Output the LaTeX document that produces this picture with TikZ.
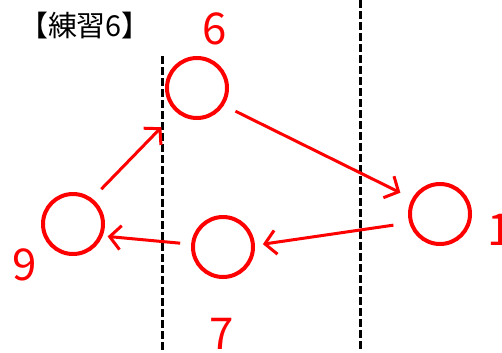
\documentclass[tikz,border=0pt]{standalone}
\usepackage{fontspec}
\setmainfont{Noto Sans CJK JP}
\usetikzlibrary{arrows.meta}
\definecolor{markred}{RGB}{255,0,0}

\begin{document}
\begin{tikzpicture}[x=1bp, y=-1bp]

  \tikzset{
    ring/.style = {
      circle, draw=markred, line width=4bp,
      minimum size=60bp, inner sep=0pt
    },
    numlbl/.style = {
      text=markred, font=\fontsize{44}{44}\selectfont, inner sep=0pt
    },
    arr/.style = {
      -{Straight Barb[length=11bp, width=24bp]}, line width=3bp, markred
    },
    divider/.style = {
      line width=3bp, dash pattern=on 8bp off 3bp
    }
  }

  \useasboundingbox (0,0) rectangle (502,352);

  % --- dividers --------------------------------------------------------------
  \draw [divider] (162,56) -- (162,352);
  \draw [divider] (360,0)  -- (360,352);

  % --- title -----------------------------------------------------------------
  \node (title) at (85,26) [font=\fontsize{29}{29}\selectfont, inner sep=0pt]
    {【練習6】};

  % --- circles ---------------------------------------------------------------
  \node (c6) at (197,88)  [ring] {};
  \node (c1) at (440,214) [ring] {};
  \node (c7) at (223,247) [ring] {};
  \node (c9) at (73,224)  [ring] {};

  % --- numbers ---------------------------------------------------------------
  \node (l6) at (215,29)  [numlbl] {6};
  \node (l1) at (487,230) [numlbl, anchor=west] {1};
  \node (l9) at (25,265)  [numlbl] {9};
  \node (l7) at (222,334) [numlbl] {7};

  % --- arrows ----------------------------------------------------------------
  \draw [arr, shorten <=13bp, shorten >=21bp] (c9.53)  -- (c6.229);
  \draw [arr, shorten <=13bp, shorten >=13bp] (c6.-33) -- (c1.151);
  \draw [arr, shorten <=16bp, shorten >=8bp]  (c1.196) -- (c7.3);
  \draw [arr, shorten <=11bp, shorten >=5bp]  (c7.175) -- (c9.-22);

\end{tikzpicture}
\end{document}
